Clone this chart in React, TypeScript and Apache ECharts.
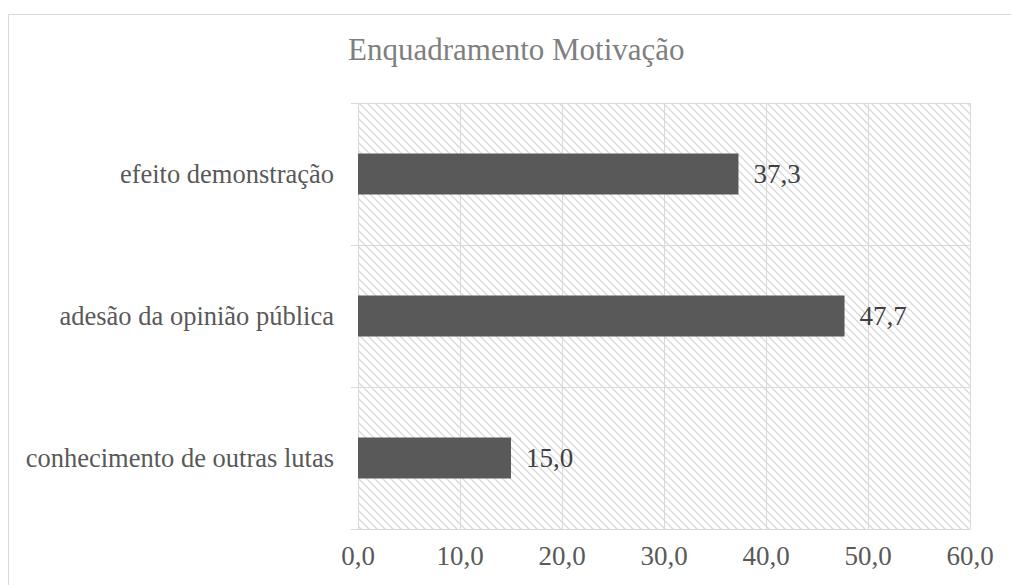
import React, { useEffect, useRef } from "react";
import * as echarts from "echarts";

const titleText = "Enquadramento Motivação";
const categories = [
  "conhecimento de outras lutas",
  "adesão da opinião pública",
  "efeito demonstração",
];
const values = [15.0, 47.7, 37.3];
const xMin = 0;
const xMax = 60;
const xInterval = 10;

const FONT = "'Liberation Serif', 'Times New Roman', serif";
const fmt = (v: number) => v.toFixed(1).replace(".", ",");

function makeHatch(): HTMLCanvasElement {
  const c = document.createElement("canvas");
  const s = 8;
  c.width = s;
  c.height = s;
  const ctx = c.getContext("2d")!;
  ctx.fillStyle = "#ffffff";
  ctx.fillRect(0, 0, s, s);
  ctx.strokeStyle = "#d9d9d9";
  ctx.lineWidth = 1.3;
  ctx.beginPath();
  ctx.moveTo(-2, -2);
  ctx.lineTo(s + 2, s + 2);
  ctx.moveTo(-2, s - 2);
  ctx.lineTo(2, s + 2);
  ctx.moveTo(s - 2, -2);
  ctx.lineTo(s + 2, 2);
  ctx.stroke();
  return c;
}

export default function App() {
  const ref = useRef<HTMLDivElement>(null);
  useEffect(() => {
    document.body.style.margin = "0";
    const chart = echarts.init(ref.current!, undefined, { renderer: "svg" });
    const gl = 358, gt = 103, gr = 41, gb = 56;
    const W = 1011, H = 585;
    chart.setOption({
      animation: false,
      backgroundColor: "#ffffff",
      title: {
        text: titleText,
        left: 343,
        top: 29,
        textStyle: { fontFamily: FONT, fontSize: 31, fontWeight: "normal", color: "#7f7f7f" },
      },
      graphic: [
        {
          type: "rect",
          z: -10,
          silent: true,
          shape: { x: 8.5, y: 14.5, width: 1200, height: 800 },
          style: { fill: "#ffffff", stroke: "#d9d9d9", lineWidth: 1 },
        },
        {
          type: "rect",
          z: -9,
          silent: true,
          shape: { x: gl, y: gt, width: W - gl - gr, height: H - gt - gb },
          style: { fill: { image: makeHatch(), repeat: "repeat" } as any },
        },
      ],
      grid: { left: gl, top: gt, right: gr, bottom: gb, containLabel: false },
      xAxis: {
        type: "value",
        min: xMin,
        max: xMax,
        interval: xInterval,
        axisLine: { show: true, lineStyle: { color: "#d9d9d9" } },
        axisTick: { show: false },
        splitLine: { show: true, lineStyle: { color: "#d9d9d9", width: 1 } },
        axisLabel: {
          formatter: (v: number) => fmt(v),
          fontFamily: FONT,
          fontSize: 27,
          color: "#595959",
          margin: 13,
        },
      },
      yAxis: {
        type: "category",
        data: categories,
        axisLine: { show: true, lineStyle: { color: "#d9d9d9" } },
        axisTick: { show: true, length: 7, lineStyle: { color: "#d9d9d9" } },
        splitLine: { show: true, lineStyle: { color: "#d9d9d9" } },
        axisLabel: { fontFamily: FONT, fontSize: 26.5, color: "#595959", margin: 24 },
      },
      series: [
        {
          type: "bar",
          data: values,
          barWidth: 41,
          itemStyle: { color: "#595959" },
          label: {
            show: true,
            position: "right",
            distance: 15,
            formatter: (p: any) => fmt(p.value),
            fontFamily: FONT,
            fontSize: 27,
            color: "#404040",
          },
        },
      ],
    });
    return () => chart.dispose();
  }, []);
  return <div ref={ref} style={{ width: 1011, height: 585 }} />;
}
